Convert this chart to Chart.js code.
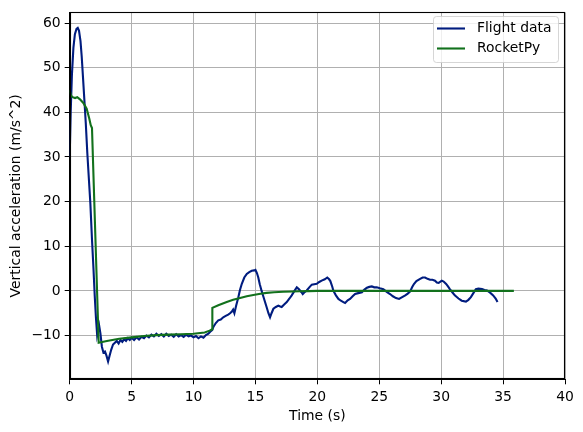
<!DOCTYPE html>
<html>
<head>
<meta charset="utf-8">
<script src="https://cdn.jsdelivr.net/npm/chart.js@4"></script>
<style>
html,body{margin:0;padding:0;background:#fff;}
#wrap{width:583px;height:432px;}
</style>
</head>
<body>
<div id="wrap"><canvas id="c" width="583" height="432"></canvas></div>
<script>
const seriesNames = ["Flight data", "RocketPy"];
const xTicks = [0, 5, 10, 15, 20, 25, 30, 35, 40];
const yTicks = [-10, 0, 10, 20, 30, 40, 50, 60];

const flightTime = [0,0.08,0.18,0.3,0.42,0.55,0.65,0.75,0.87,0.97,1.07,1.18,1.3,1.42,1.55,1.67,1.8,1.92,2.02,2.12,2.22,2.3,2.38,2.48,2.6,2.72,2.85,2.97,3.1,3.22,3.35,3.5,3.65,3.8,3.95,4.1,4.25,4.4,4.55,4.7,4.85,5.0,5.2,5.4,5.6,5.8,6.0,6.2,6.4,6.6,6.8,7.0,7.2,7.4,7.6,7.8,8.0,8.2,8.4,8.6,8.8,9.0,9.2,9.4,9.6,9.8,10.0,10.2,10.4,10.6,10.8,11.0,11.2,11.4,11.5,11.6,11.8,12.0,12.2,12.4,12.6,12.8,12.95,13.1,13.2,13.3,13.45,13.62,13.75,13.9,14.1,14.3,14.5,14.7,14.9,15.0,15.12,15.23,15.35,15.5,15.7,15.9,16.05,16.18,16.3,16.45,16.65,16.85,17.0,17.12,17.3,17.53,17.75,17.93,18.15,18.34,18.5,18.6,18.72,18.82,19.0,19.14,19.35,19.55,19.75,19.95,20.15,20.35,20.6,20.8,20.95,21.05,21.2,21.3,21.5,21.7,21.9,22.1,22.24,22.45,22.64,22.85,23.05,23.3,23.6,23.8,24.0,24.2,24.4,24.6,24.8,25.05,25.33,25.6,25.87,26.1,26.35,26.6,26.85,27.1,27.3,27.5,27.65,27.8,28.0,28.3,28.5,28.7,28.9,29.1,29.3,29.5,29.65,29.8,30.05,30.2,30.4,30.55,30.7,30.9,31.1,31.4,31.66,32.0,32.2,32.4,32.6,32.8,33.0,33.3,33.5,33.7,33.95,34.2,34.4,34.55];
const flightAccel = [30,40,48.5,54.5,57.5,58.7,58.9,58.3,56,52.5,48,43,37.5,31,25,19.5,11.5,5,-1,-6,-10,-9,-7.8,-9.5,-12.5,-13.8,-13.6,-14.5,-15.8,-14.5,-13.2,-12,-11.6,-11.2,-11.8,-11.0,-11.4,-10.8,-11.2,-10.6,-11.0,-10.5,-11.0,-10.4,-10.9,-10.3,-10.6,-10.0,-10.4,-9.8,-10.2,-9.6,-10.1,-9.7,-10.2,-9.6,-10.1,-9.8,-10.3,-9.7,-10.2,-9.9,-10.3,-9.8,-10.2,-10.0,-10.4,-10.1,-10.6,-10.2,-10.5,-9.9,-9.6,-9.0,-8.8,-8.1,-7.2,-6.6,-6.4,-5.9,-5.6,-5.3,-5.0,-4.6,-4.2,-5.0,-3.2,-1.4,0.2,1.6,3.0,3.8,4.2,4.5,4.6,4.7,4.0,3.0,1.5,0,-1.8,-3.6,-5.0,-5.9,-5.0,-4.0,-3.6,-3.3,-3.5,-3.6,-3.1,-2.5,-1.7,-1.0,0,0.8,0.4,0.1,-0.3,-0.7,-0.2,0.1,0.8,1.4,1.5,1.6,2.0,2.3,2.6,3.0,2.6,2.2,1.0,0,-1.0,-1.8,-2.2,-2.5,-2.7,-2.1,-1.8,-1.2,-0.7,-0.5,-0.3,0.3,0.7,0.9,1.0,0.8,0.8,0.6,0.4,-0.2,-0.7,-1.2,-1.6,-1.8,-1.4,-1.0,-0.6,-0.1,0.8,1.55,2.2,2.7,3.0,3.0,2.7,2.5,2.5,2.3,1.9,1.8,2.3,2.1,1.55,1.0,0.4,-0.3,-1.0,-1.7,-2.2,-2.4,-2.0,-1.4,-0.5,0.4,0.5,0.4,0.2,0.1,-0.4,-1.0,-1.7,-2.5];

const rocketTime = [0,0.1,0.24,0.43,0.61,0.83,1.1,1.37,1.58,1.7,1.8,2.34,3.0,4.0,5.0,6.0,7.0,8.0,9.0,10.0,10.9,11.3,11.5,11.52,12.0,12.68,13.2,13.76,14.3,14.83,15.4,15.9,16.5,17.25,18.0,18.6,19.3,19.95,21,23,25,27,29,31,33,35,35.87];
const rocketAccel = [45,43.8,43.4,43.2,43.4,42.9,42.1,40.8,38.6,37.1,36.5,-11.6,-11.2,-10.7,-10.4,-10.1,-9.9,-9.8,-9.7,-9.6,-9.3,-8.9,-8.6,-3.8,-3.2,-2.5,-2.0,-1.6,-1.2,-0.9,-0.65,-0.45,-0.3,-0.2,-0.12,-0.07,-0.04,0,0,0,0,0,0,0,0,0,0];

const seriesColors = ["#001c7f", "#12711c"];

function pts(ts, vs){ return ts.map((t,i)=>({x:t, y:vs[i]})); }

const FONT = "DejaVu Sans";
const FS = 13.9;

const frame = {
  id: 'frame',
  afterDatasetsDraw(chart){
    const a = chart.chartArea, ctx = chart.ctx;
    ctx.save();
    ctx.strokeStyle = '#000';
    ctx.lineWidth = 1.1;
    ctx.strokeRect(Math.round(a.left)+0.5, Math.round(a.top)+0.5, Math.round(a.right-a.left)-1, Math.round(a.bottom-a.top)-1);
    ctx.restore();
  },
  afterDraw(chart){
    const ctx = chart.ctx;
    const bx = 433.5, by = 16.5, bw = 125, bh = 46, r = 3;
    ctx.save();
    ctx.beginPath();
    ctx.moveTo(bx+r, by);
    ctx.lineTo(bx+bw-r, by); ctx.arcTo(bx+bw, by, bx+bw, by+r, r);
    ctx.lineTo(bx+bw, by+bh-r); ctx.arcTo(bx+bw, by+bh, bx+bw-r, by+bh, r);
    ctx.lineTo(bx+r, by+bh); ctx.arcTo(bx, by+bh, bx, by+bh-r, r);
    ctx.lineTo(bx, by+r); ctx.arcTo(bx, by, bx+r, by, r);
    ctx.closePath();
    ctx.fillStyle = 'rgba(255,255,255,0.8)';
    ctx.fill();
    ctx.strokeStyle = 'rgba(204,204,204,0.8)';
    ctx.lineWidth = 1;
    ctx.stroke();
    chart.data.datasets.forEach((ds, i) => {
      const y = 28.5 + i*20;
      ctx.beginPath();
      ctx.moveTo(437, y); ctx.lineTo(465, y);
      ctx.strokeStyle = ds.borderColor; ctx.lineWidth = 2.1;
      ctx.stroke();
      ctx.fillStyle = '#000';
      ctx.font = FS + 'px "' + FONT + '"';
      ctx.textBaseline = 'middle';
      ctx.textAlign = 'left';
      ctx.fillText(ds.label, 477, y);
    });
    ctx.restore();
  }
};

new Chart(document.getElementById('c'), {
  type: 'line',
  data: {
    datasets: [
      { label: seriesNames[0], data: pts(flightTime, flightAccel), borderColor: seriesColors[0], backgroundColor: seriesColors[0], borderWidth: 2.1, pointRadius: 0, tension: 0, order: 2 },
      { label: seriesNames[1], data: pts(rocketTime, rocketAccel), borderColor: seriesColors[1], backgroundColor: seriesColors[1], borderWidth: 2.1, pointRadius: 0, tension: 0, order: 1 }
    ]
  },
  options: {
    responsive: false,
    animation: false,
    devicePixelRatio: 1,
    layout: { padding: { left: 0, right: 18, top: 9, bottom: 0 } },
    plugins: { legend: { display: false }, tooltip: { enabled: false } },
    scales: {
      x: {
        type: 'linear', min: 0, max: 40,
        afterFit(s){ s.height = 52.7; },
        afterBuildTicks(s){ s.ticks = xTicks.map(v=>({value:v})); },
        ticks: { color: '#000', font: { family: FONT, size: FS }, padding: 5, maxRotation: 0, autoSkip: false },
        grid: { color: '#b0b0b0', lineWidth: 1, tickLength: 5, tickColor: '#000', drawTicks: true },
        border: { display: true, color: '#000', width: 1.1 },
        title: { display: true, text: 'Time (s)', color: '#000', font: { family: FONT, size: FS }, padding: { top: 3, bottom: 7 } }
      },
      y: {
        type: 'linear', min: -19.8, max: 62.4,
        afterFit(s){ s.width = 69.7; },
        afterBuildTicks(s){ s.ticks = yTicks.map(v=>({value:v})); },
        ticks: { color: '#000', font: { family: FONT, size: FS }, padding: 4, autoSkip: false,
          callback: v => String(v).replace('-', '\u2212') },
        grid: { color: '#b0b0b0', lineWidth: 1, tickLength: 5, tickColor: '#000', drawTicks: true },
        border: { display: true, color: '#000', width: 1.1 },
        title: { display: true, text: 'Vertical acceleration (m/s^2)', color: '#000', font: { family: FONT, size: FS }, padding: { top: 8.5, bottom: 4 } }
      }
    }
  },
  plugins: [frame]
});
</script>
</body>
</html>
